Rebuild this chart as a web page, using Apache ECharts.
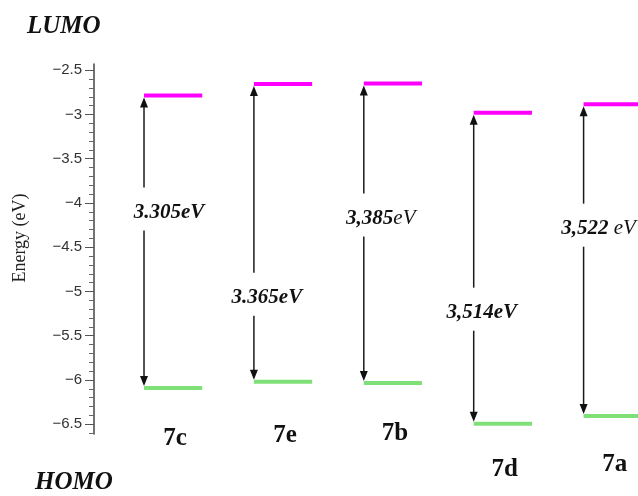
<!DOCTYPE html>
<html>
<head>
<meta charset="utf-8">
<script src="https://cdn.jsdelivr.net/npm/echarts@6/dist/echarts.min.js"></script>
<style>
  html, body { margin: 0; padding: 0; background: #fff; }
  #chart { width: 638px; height: 496px; }
</style>
</head>
<body>
<div id="chart"></div>
<script>
// Frontier orbital energies (eV) for each compound
const compounds = ['7c', '7e', '7b', '7d', '7a'];
const lumoEnergy = [-2.785, -2.655, -2.65, -2.98, -2.885];
const gapEnergy = [3.305, 3.365, 3.385, 3.514, 3.522];
const gapNumberText = ['3.305', '3.365', '3,385', '3,514', '3,522'];
const gapUnitText = ['eV', 'eV', 'eV', 'eV', ' eV'];
const gapUnitBold = [true, true, false, true, false];
const yTickValues = [-6.5, -6, -5.5, -5, -4.5, -4, -3.5, -3, -2.5];

// HOMO level sits one gap below LUMO
const homoEnergy = lumoEnergy.map((v, i) => v - gapEnergy[i]);

// Layout: where the gap label sits along the arrow (fraction from LUMO),
// its horizontal shift from the arrow, and the name's drop below HOMO
const labelFrac = [0.40, 0.718, 0.451, 0.643, 0.399];
const labelShift = [25, 13, 17, 8, 15];
const nameDrop = [51, 54, 50, 46, 49];

const minorTicks = [];
for (let k = -66; k <= -25; k++) {
  if (k % 5 !== 0) minorTicks.push(k / 10);
}

const serif = '"Liberation Serif", "Times New Roman", serif';
const LEVEL_START = 0.455;
const LEVEL_LEN = 0.53;

function renderItem(params, api) {
  const i = api.value(0);
  const lumo = api.value(1);
  const homo = api.value(2);
  const pL0 = api.coord([i + LEVEL_START, lumo]);
  const pL1 = api.coord([i + LEVEL_START + LEVEL_LEN, lumo]);
  const pH0 = api.coord([i + LEVEL_START, homo]);
  const pH1 = api.coord([i + LEVEL_START + LEVEL_LEN, homo]);
  const ax = pL0[0];
  const topY = pL0[1] + 2;
  const botY = pH0[1] - 2;
  const labelY = api.coord([0, lumo + labelFrac[i] * (homo - lumo)])[1];
  const head = 10, half = 4;
  const arrowStyle = { stroke: '#1a1a1a', lineWidth: 1.5 };
  const unitWeight = gapUnitBold[i] ? 'bold' : 'normal';
  return {
    type: 'group',
    children: [
      { type: 'line', shape: { x1: pL0[0], y1: pL0[1], x2: pL1[0], y2: pL1[1] },
        style: { stroke: '#ff00ff', lineWidth: 4 } },
      { type: 'line', shape: { x1: pH0[0], y1: pH0[1], x2: pH1[0], y2: pH1[1] },
        style: { stroke: '#80e078', lineWidth: 4 } },
      { type: 'line', shape: { x1: ax, y1: topY + head - 1, x2: ax, y2: labelY - 25 },
        style: arrowStyle },
      { type: 'line', shape: { x1: ax, y1: labelY + 18, x2: ax, y2: botY - head + 1 },
        style: arrowStyle },
      { type: 'polygon', shape: { points: [[ax, topY], [ax - half, topY + head], [ax + half, topY + head]] },
        style: { fill: '#111' } },
      { type: 'polygon', shape: { points: [[ax, botY], [ax - half, botY - head], [ax + half, botY - head]] },
        style: { fill: '#111' } },
      { type: 'text',
        style: {
          x: ax + labelShift[i], y: labelY,
          text: '{n|' + gapNumberText[i] + '}{u|' + gapUnitText[i] + '}',
          align: 'center', verticalAlign: 'middle',
          rich: {
            n: { fontFamily: serif, fontSize: 21, fontWeight: 'bold', fontStyle: 'italic', fill: '#111' },
            u: { fontFamily: serif, fontSize: 21, fontWeight: unitWeight, fontStyle: 'italic', fill: '#111' }
          }
        } },
      { type: 'text',
        style: {
          x: (pH0[0] + pH1[0]) / 2 + 2, y: pH0[1] + nameDrop[i],
          text: compounds[i],
          align: 'center', verticalAlign: 'middle',
          fontFamily: serif, fontSize: 25, fontWeight: 'bold', fill: '#111'
        } }
    ]
  };
}

const chart = echarts.init(document.getElementById('chart'));
chart.setOption({
  animation: false,
  backgroundColor: '#fff',
  grid: { left: 94, right: 0, top: 64, height: 370 },
  xAxis: { type: 'value', min: 0, max: 4.95, show: false },
  yAxis: [
    {
      type: 'value', min: -6.61, max: -2.43, position: 'left',
      splitLine: { show: false },
      axisLine: { show: true, lineStyle: { color: '#444', width: 1.5 } },
      axisTick: { show: true, length: 9, customValues: yTickValues, lineStyle: { color: '#555', width: 1 } },
      axisLabel: {
        customValues: yTickValues, margin: 12,
        fontFamily: '"Liberation Sans", Arial, sans-serif', fontSize: 15, color: '#333',
        formatter: v => String(v).replace('-', '\u2212')
      }
    },
    {
      type: 'value', min: -6.61, max: -2.43, position: 'left',
      splitLine: { show: false },
      axisLine: { show: false },
      axisTick: { show: true, length: 5, customValues: minorTicks, lineStyle: { color: '#666', width: 1 } },
      axisLabel: { show: false }
    }
  ],
  graphic: [
    { type: 'text', left: 27, top: 14,
      style: { text: 'LUMO', fontFamily: serif, fontSize: 25, fontWeight: 'bold', fontStyle: 'italic', fill: '#111' } },
    { type: 'text', left: 35, top: 470,
      style: { text: 'HOMO', fontFamily: serif, fontSize: 25, fontWeight: 'bold', fontStyle: 'italic', fill: '#111' } },
    { type: 'text', x: 20, y: 238, rotation: Math.PI / 2,
      style: { text: 'Energy (eV)', fontFamily: serif, fontSize: 18, fill: '#222', align: 'center', verticalAlign: 'middle' } }
  ],
  series: [{
    type: 'custom',
    renderItem: renderItem,
    encode: { x: 0, y: [1, 2] },
    data: compounds.map((c, i) => [i, lumoEnergy[i], homoEnergy[i]]),
    clip: false
  }]
});
</script>
</body>
</html>
